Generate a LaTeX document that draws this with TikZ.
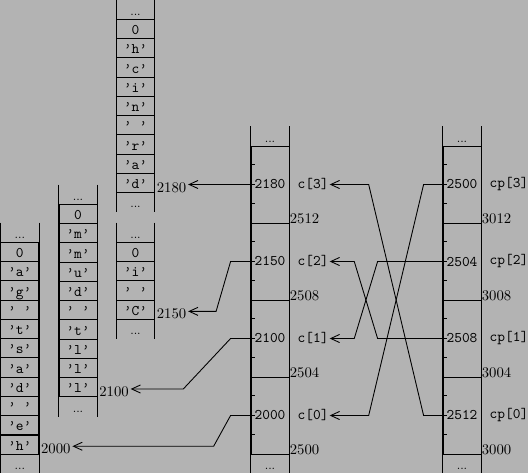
\documentclass[tikz,border=0pt]{standalone}
\usetikzlibrary{arrows.meta}
\definecolor{bg}{RGB}{179,179,179}
\newcommand{\gapdots}{...}

\begin{document}
\begin{tikzpicture}[x=0.68pt, y=-0.68pt, line width=0.6pt,
  cell/.style={draw, minimum width=25.8pt, minimum height=13.1pt, inner sep=0pt,
    text height=7.7pt, text depth=0pt, font=\ttfamily},
  gap/.style={cell, draw=none, font=\footnotesize},
  word/.style={draw, minimum width=25.8pt, minimum height=52.36pt, inner sep=0pt, font=\ttfamily},
  addr/.style={anchor=base west, inner sep=1pt},
  where/.style={anchor=base west, inner sep=0pt},
  tag/.style={anchor=west, inner sep=0.5pt, font=\ttfamily},
  ptr/.style={-{Straight Barb[length=6pt,width=5.5pt]}}]
\fill[bg] (0,0) rectangle (528,473);
\useasboundingbox (0,0) rectangle (528,473);

% the strings
\foreach \s/\t [count=\i from 0] in {gap/\gapdots, cell/0, cell/’a’, cell/’g’, cell/’ ’, cell/’t’,
    cell/’s’, cell/’a’, cell/’d’, cell/’ ’, cell/’e’, cell/’h’, gap/\gapdots}
  \node[\s] (s0-\i) at (19.8,{232.6+19.27*\i}) {\t};
\draw (s0-0.north west) -- (s0-12.south west) (s0-0.north east) -- (s0-12.south east);
\node[addr] (s0a) at ([yshift=0.7pt]s0-11.south east) {2000};

\foreach \s/\t [count=\i from 0] in {gap/\gapdots, cell/0, cell/’m’, cell/’m’, cell/’u’, cell/’d’,
    cell/’ ’, cell/’t’, cell/’l’, cell/’l’, cell/’l’, gap/\gapdots}
  \node[\s] (s1-\i) at (78,{194.6+19.27*\i}) {\t};
\draw (s1-0.north west) -- (s1-11.south west) (s1-0.north east) -- (s1-11.south east);
\node[addr] (s1a) at ([yshift=0.7pt]s1-10.south east) {2100};

\foreach \s/\t [count=\i from 0] in {gap/\gapdots, cell/0, cell/’i’, cell/’ ’, cell/’C’, gap/\gapdots}
  \node[\s] (s2-\i) at (135.5,{232.6+19.27*\i}) {\t};
\draw (s2-0.north west) -- (s2-5.south west) (s2-0.north east) -- (s2-5.south east);
\node[addr] (s2a) at ([yshift=0.7pt]s2-4.south east) {2150};

\foreach \s/\t [count=\i from 0] in {gap/\gapdots, cell/0, cell/’h’, cell/’c’, cell/’i’, cell/’n’,
    cell/’ ’, cell/’r’, cell/’a’, cell/’d’, gap/\gapdots}
  \node[\s] (s3-\i) at (135.5,{9.6+19.27*\i}) {\t};
\draw (s3-0.north west) -- (s3-10.south west) (s3-0.north east) -- (s3-10.south east);
\node[addr] (s3a) at ([yshift=0.7pt]s3-9.south east) {2180};

% the array c
\node[gap] (ctop) at (270,136.4) {\gapdots};
\node[gap] (cbot) at (270,463.6) {\gapdots};
\draw (ctop.north west) -- (cbot.south west) (ctop.north east) -- (cbot.south east);
\foreach \i/\v/\a in {3/2180/2512, 2/2150/2508, 1/2100/2504, 0/2000/2500} {
  \node[word] (c\i) at (270,{184.5+77*(3-\i)}) {\v};
  \node[where] (ca\i) at (c\i.south east) {\a};
  \node[tag] (cn\i) at ([xshift=4.8pt]c\i.east) {c[\i]};
}

% the array cp
\node[gap] (ptop) at (462,136.4) {\gapdots};
\node[gap] (pbot) at (462,463.6) {\gapdots};
\draw (ptop.north west) -- (pbot.south west) (ptop.north east) -- (pbot.south east);
\foreach \i/\v/\a in {3/2500/3012, 2/2504/3008, 1/2508/3004, 0/2512/3000} {
  \node[word] (p\i) at (462,{184.5+77*(3-\i)}) {\v};
  \node[where] (pa\i) at (p\i.south east) {\a};
  \node[tag] (pn\i) at ([xshift=4.8pt]p\i.east) {cp[\i]};
}

\foreach \w in {c0,c1,c2,c3,p0,p1,p2,p3}
  \foreach \k in {1,2,3}
    \draw ([yshift=-\k*13.09pt]\w.north west) -- ++(4,0);

% pointers
\draw[ptr] (p3.west) -- ++(-19,0) -- ([xshift=26.5pt]cn0.east) -- (cn0.east);
\draw[ptr] (p2.west) -- ++(-65,0) -- ([xshift=16.7pt]cn1.east) -- (cn1.east);
\draw[ptr] (p1.west) -- ++(-65,0) -- ([xshift=16.7pt]cn2.east) -- (cn2.east);
\draw[ptr] (p0.west) -- ++(-19,0) -- ([xshift=26.5pt]cn3.east) -- (cn3.east);

\draw[ptr] (c3.west) -- (s3a.east |- c3.west);
\draw[ptr] (c2.west) -- ++(-20,0) -- ([xshift=19pt,yshift=5pt]s2a.base east) -- ([yshift=5pt]s2a.base east);
\draw[ptr] (c1.west) -- ++(-20,0) -- ([xshift=35.8pt,yshift=5pt]s1a.base east) -- ([yshift=5pt]s1a.base east);
\draw[ptr] (c0.west) -- ++(-20,0) -- ([xshift=96pt,yshift=5pt]s0a.base east) -- ([yshift=5pt]s0a.base east);
\end{tikzpicture}
\end{document}
